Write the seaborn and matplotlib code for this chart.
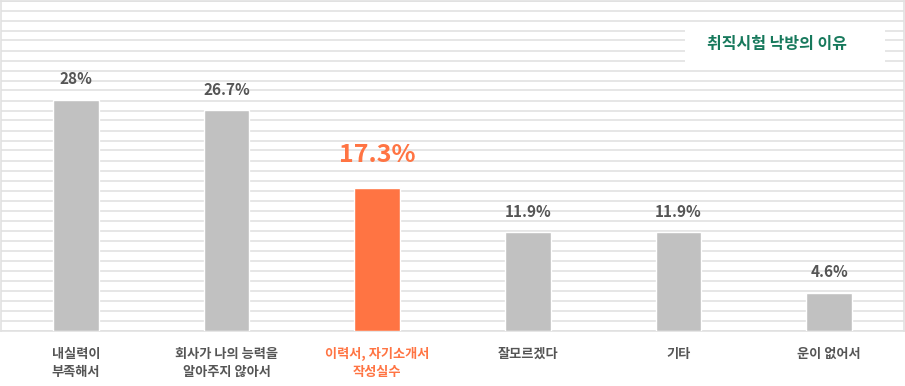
import numpy as np
import pandas as pd
import matplotlib.pyplot as plt
import seaborn as sns
from matplotlib.patches import Rectangle

categories = ['내실력이\n부족해서', '회사가 나의 능력을\n알아주지 않아서', '이력서, 자기소개서\n작성실수',
              '잘모르겠다', '기타', '운이 없어서']
values = [28, 26.7, 17.3, 11.9, 11.9, 4.6]
value_labels = ['28%', '26.7%', '17.3%', '11.9%', '11.9%', '4.6%']
highlight = 2
title = '취직시험 낙방의 이유'

GRAY = '#c1c1c1'
ORANGE = '#ff7443'
TEXT = '#555555'
GREEN = '#17795c'
LINE = '#e1e1e1'


def main():
    sns.set_style('white')
    plt.rcParams['font.family'] = ['Noto Sans CJK KR', 'DejaVu Sans']

    df = pd.DataFrame({'category': categories, 'value': values})
    colors = [ORANGE if i == highlight else GRAY for i in range(len(categories))]

    fig = plt.figure(figsize=(9.05, 3.86), dpi=100)
    ax = fig.add_axes([0.0006, (386 - 330.5) / 386, 0.9988, 330 / 386])

    sns.barplot(data=df, x='category', y='value', hue='category', palette=colors,
                width=0.305, saturation=1, legend=False, ax=ax, zorder=3)

    ax.set_ylim(0, 40)
    ax.set_xlim(-0.5, len(categories) - 0.5)
    ax.set_yticks(np.linspace(0, 40, 34))
    ax.yaxis.grid(True, color=LINE, linewidth=1.2, zorder=0)
    ax.set_axisbelow(True)
    ax.set_yticklabels([])
    ax.tick_params(axis='y', length=0)
    ax.tick_params(axis='x', length=0, pad=12)
    ax.set_xlabel('')
    ax.set_ylabel('')
    for s in ax.spines.values():
        s.set_color(LINE)
        s.set_linewidth(1.2)

    ax.set_xticks(range(len(categories)))
    ax.set_xticklabels(categories, fontsize=9.5, fontweight='bold', linespacing=1.35)
    for i, lab in enumerate(ax.get_xticklabels()):
        lab.set_color(ORANGE if i == highlight else TEXT)

    # value labels above bars
    for i, (v, t) in enumerate(zip(values, value_labels)):
        if i == highlight:
            ax.annotate(t, (i, v), xytext=(0, 15), textcoords='offset points',
                        ha='center', va='bottom', fontsize=18, fontweight='bold', color=ORANGE)
        else:
            ax.annotate(t, (i, v), xytext=(0, 9), textcoords='offset points',
                        ha='center', va='bottom', fontsize=11, fontweight='bold', color=TEXT)

    # title box
    ax.add_patch(Rectangle((0.757, 0.794), 0.221, 0.139, transform=ax.transAxes,
                           facecolor='white', edgecolor='none', zorder=4))
    ax.text(0.859, 0.868, title, transform=ax.transAxes, ha='center', va='center',
            fontsize=11.5, fontweight='bold', color=GREEN, zorder=5)

    fig.savefig('out.png', dpi=100)


if __name__ == '__main__':
    main()
